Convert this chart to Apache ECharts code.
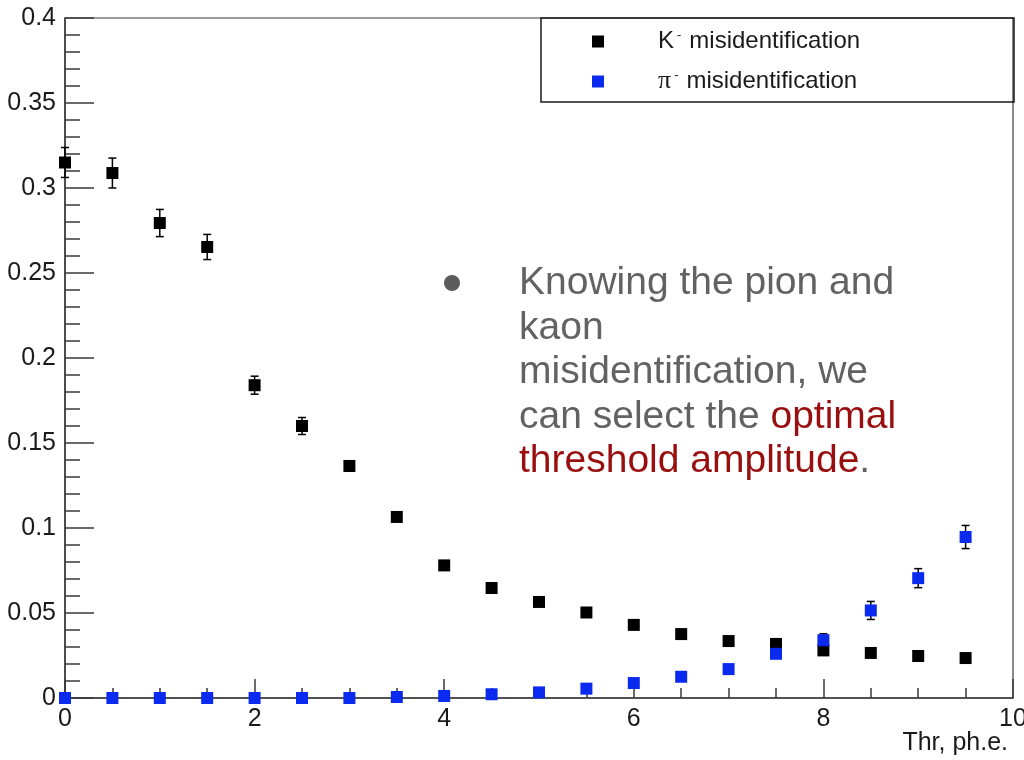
<!DOCTYPE html>
<html>
<head>
<meta charset="utf-8">
<script src="https://cdn.jsdelivr.net/npm/echarts@6/dist/echarts.min.js"></script>
<style>
  html, body { margin: 0; padding: 0; background: #fff; }
  #chart { width: 1024px; height: 760px; }
</style>
</head>
<body>
<div id="chart"></div>
<script>
// Threshold scan (photo-electrons) and misidentification probabilities
const thresholds = [0, 0.5, 1, 1.5, 2, 2.5, 3, 3.5, 4, 4.5, 5, 5.5, 6, 6.5, 7, 7.5, 8, 8.5, 9, 9.5];

const kaonMis = [0.315, 0.3088, 0.2794, 0.2653, 0.184, 0.160, 0.1365, 0.1065, 0.078, 0.0647,
                 0.0565, 0.0503, 0.043, 0.0376, 0.0335, 0.0318, 0.028, 0.0265, 0.0247, 0.0235];
const kaonErr = [0.0088, 0.0088, 0.008, 0.0074, 0.0053, 0.005, 0.003, 0.0025, 0.002, 0.002,
                 0.0018, 0.0018, 0.0016, 0.0016, 0.0015, 0.0015, 0.0015, 0.0015, 0.0015, 0.0015];

const pionMis = [0, 0, 0, 0, 0, 0, 0, 0.0006, 0.0012, 0.0022,
                 0.0033, 0.0055, 0.0088, 0.0125, 0.017, 0.026, 0.034, 0.0515, 0.0705, 0.0947];
const pionErr = [0, 0, 0, 0, 0, 0, 0, 0.0004, 0.0006, 0.0008,
                 0.001, 0.0012, 0.0015, 0.0018, 0.002, 0.0025, 0.0038, 0.0053, 0.0056, 0.0068];

const xTickLabels = ['0', '2', '4', '6', '8', '10'];
const yTickLabels = ['0', '0.05', '0.1', '0.15', '0.2', '0.25', '0.3', '0.35', '0.4'];

const seriesNames = ['K- misidentification', 'pi- misidentification'];
const xAxisTitle = 'Thr, ph.e.';

const FONT = "'Liberation Sans', Arial, Helvetica, sans-serif";
const SERIF = "'Liberation Serif', 'DejaVu Serif', serif";
const AXIS_COLOR = '#3a3a3a';
const TEXT_COLOR = '#1a1a1a';

function zipPoints(xs, ys) { return xs.map((x, i) => [x, ys[i]]); }
function zipErrors(xs, ys, es) { return xs.map((x, i) => [x, ys[i], es[i]]); }

// vertical error bar with short end caps
function errorBarItem(params, api) {
  const x = api.value(0), y = api.value(1), e = api.value(2);
  if (!e) return { type: 'group', children: [] };
  const lo = api.coord([x, y - e]);
  const hi = api.coord([x, y + e]);
  const cap = 4;
  const style = { stroke: '#000', lineWidth: 1.5 };
  return {
    type: 'group',
    children: [
      { type: 'line', shape: { x1: lo[0], y1: lo[1], x2: hi[0], y2: hi[1] }, style },
      { type: 'line', shape: { x1: lo[0] - cap, y1: lo[1], x2: lo[0] + cap, y2: lo[1] }, style },
      { type: 'line', shape: { x1: hi[0] - cap, y1: hi[1], x2: hi[0] + cap, y2: hi[1] }, style }
    ]
  };
}

const chart = echarts.init(document.getElementById('chart'), null, { renderer: 'canvas' });

const option = {
  backgroundColor: '#fff',
  animation: false,
  textStyle: { fontFamily: FONT },
  grid: {
    left: 65, right: 11, top: 18, bottom: 62,
    outerBoundsMode: 'none',
    containLabel: false,
    show: true, borderColor: AXIS_COLOR, borderWidth: 1.2
  },
  xAxis: {
    type: 'value', min: 0, max: 10, interval: 2,
    axisLine: { show: true, lineStyle: { color: AXIS_COLOR, width: 1.5 } },
    axisTick: { show: true, inside: true, length: 19, lineStyle: { color: AXIS_COLOR, width: 1.5 } },
    minorTick: { show: true, splitNumber: 4, length: 10, lineStyle: { color: AXIS_COLOR, width: 1.5 } },
    splitLine: { show: false },
    axisLabel: {
      color: TEXT_COLOR, fontSize: 25, fontFamily: FONT, margin: 9,
      formatter: v => xTickLabels[Math.round(v / 2)]
    }
  },
  yAxis: {
    type: 'value', min: 0, max: 0.4, interval: 0.05,
    axisLine: { show: true, lineStyle: { color: AXIS_COLOR, width: 1.5 } },
    axisTick: { show: true, inside: true, length: 29, lineStyle: { color: AXIS_COLOR, width: 1.5 } },
    minorTick: { show: true, splitNumber: 5, length: 15, lineStyle: { color: AXIS_COLOR, width: 1.5 } },
    splitLine: { show: false },
    axisLabel: {
      color: TEXT_COLOR, fontSize: 25, fontFamily: FONT, margin: 9,
      formatter: v => yTickLabels[Math.round(v / 0.05)]
    }
  },
  legend: {
    orient: 'vertical',
    left: 592, top: 29,
    padding: 0,
    itemWidth: 12, itemHeight: 12,
    itemGap: 15,
    data: seriesNames,
    textStyle: {
      fontFamily: FONT,
      rich: {
        sp: { width: 49, fontSize: 24 },
        t: { fontSize: 24, color: TEXT_COLOR, fontFamily: FONT, lineHeight: 25 },
        pi: { fontSize: 26, color: TEXT_COLOR, fontFamily: SERIF, lineHeight: 25 },
        sup: { fontSize: 13, color: TEXT_COLOR, fontFamily: FONT, verticalAlign: 'top', lineHeight: 13, padding: [0, 8, 0, 3] }
      }
    },
    formatter: name => name === seriesNames[0]
      ? '{sp| }{t|K}{sup|-}{t|misidentification}'
      : '{sp| }{pi|π}{sup|-}{t|misidentification}'
  },
  graphic: [
    {
      type: 'rect', z: 5,
      shape: { x: 541, y: 18, width: 473, height: 84 },
      style: { fill: 'rgba(0,0,0,0)', stroke: TEXT_COLOR, lineWidth: 1.5 }
    },
    {
      type: 'text', z: 5,
      x: 1008, y: 743,
      style: {
        text: xAxisTitle,
        fill: TEXT_COLOR,
        font: "25px " + FONT,
        align: 'right',
        verticalAlign: 'middle'
      }
    },
    {
      type: 'circle', z: 5,
      shape: { cx: 452, cy: 283, r: 8 },
      style: { fill: '#5c5c5c' }
    },
    {
      type: 'text', z: 5,
      x: 519, y: 261,
      style: {
        text: '{g|Knowing the pion and}\n{g|kaon}\n{g|misidentification, we}\n{g|can select the }{r|optimal}\n{r|threshold amplitude}{g|.}',
        font: "39px " + FONT,
        verticalAlign: 'top',
        align: 'left',
        lineHeight: 44.5,
        rich: {
          g: { fill: '#626262', fontSize: 39, fontFamily: FONT, lineHeight: 44.5 },
          r: { fill: '#990f0f', fontSize: 39, fontFamily: FONT, lineHeight: 44.5 }
        }
      }
    }
  ],
  series: [
    {
      type: 'custom', name: 'kaon-errors', z: 2,
      renderItem: errorBarItem,
      encode: { x: 0, y: 1 },
      data: zipErrors(thresholds, kaonMis, kaonErr),
      silent: true
    },
    {
      type: 'scatter', name: seriesNames[0], z: 3,
      symbol: 'rect', symbolSize: 12,
      itemStyle: { color: '#000', opacity: 1 },
      data: zipPoints(thresholds, kaonMis),
      clip: false
    },
    {
      type: 'custom', name: 'pion-errors', z: 4,
      renderItem: errorBarItem,
      encode: { x: 0, y: 1 },
      data: zipErrors(thresholds, pionMis, pionErr),
      silent: true
    },
    {
      type: 'scatter', name: seriesNames[1], z: 5,
      symbol: 'rect', symbolSize: 12,
      itemStyle: { color: '#0a2af0', opacity: 1 },
      data: zipPoints(thresholds, pionMis),
      clip: false
    }
  ]
};

chart.setOption(option);
</script>
</body>
</html>
